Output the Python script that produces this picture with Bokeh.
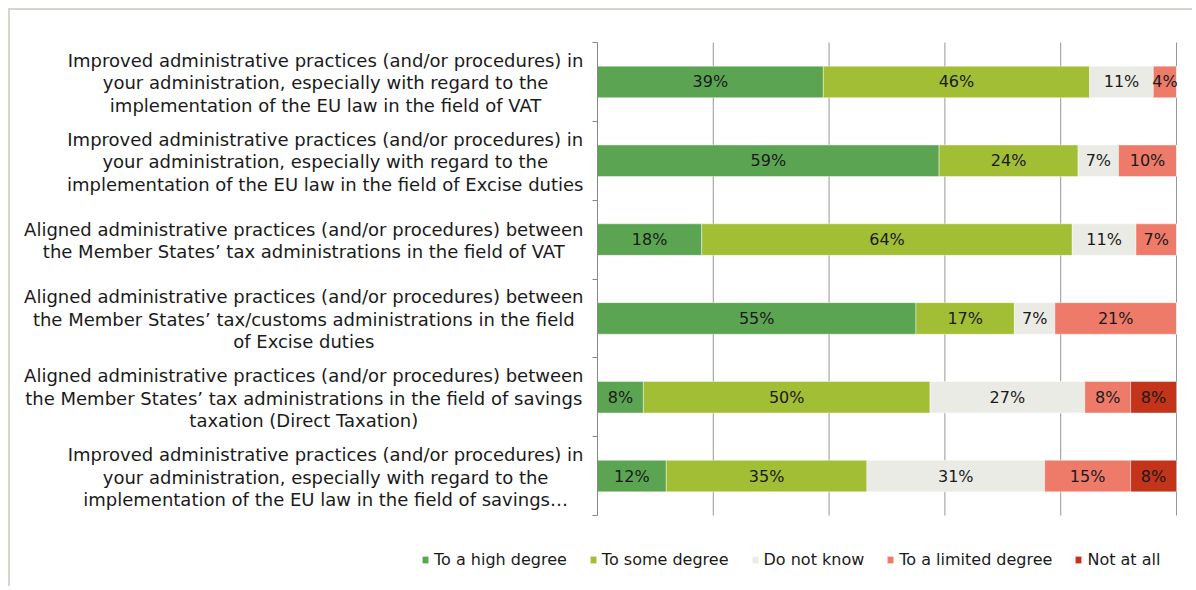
from bokeh.plotting import figure
from bokeh.models import FixedTicker, ColumnDataSource, Legend, LegendItem, Range1d, LinearAxis
from bokeh.embed import file_html
from bokeh.resources import INLINE
from bokeh.core.properties import value

statements = [
    "Improved administrative practices (and/or procedures) in\nyour administration, especially with regard to the\nimplementation of the EU law in the field of VAT",
    "Improved administrative practices (and/or procedures) in\nyour administration, especially with regard to the\nimplementation of the EU law in the field of Excise duties",
    "Aligned administrative practices (and/or procedures) between\nthe Member States\u2019 tax administrations in the field of VAT",
    "Aligned administrative practices (and/or procedures) between\nthe Member States\u2019 tax/customs administrations in the field\nof Excise duties",
    "Aligned administrative practices (and/or procedures) between\nthe Member States\u2019 tax administrations in the field of savings\ntaxation (Direct Taxation)",
    "Improved administrative practices (and/or procedures) in\nyour administration, especially with regard to the\nimplementation of the EU law in the field of savings\u2026",
]
series = ["To a high degree", "To some degree", "Do not know", "To a limited degree", "Not at all"]
high = [39, 59, 18, 55, 8, 12]
some = [46, 24, 64, 17, 50, 35]
dunno = [11, 7, 11, 7, 27, 31]
limited = [4, 10, 7, 21, 8, 15]
not_at_all = [0, 0, 0, 0, 8, 8]
colors = ["#5BA552", "#A2BE35", "#EBEBE6", "#EE7B6A", "#C4341B"]
grid_ticks = [20, 40, 60, 80, 100]

FONT = "DejaVu Sans"
values = [high, some, dunno, limited, not_at_all]
n = len(statements)
totals = [sum(v[i] for v in values) for i in range(n)]
ypos = [i + 0.5 for i in range(n)]
bounds = list(range(n + 1))

W, H = 1184, 578
p = figure(width=W, height=H, output_backend="svg", toolbar_location=None,
           x_range=Range1d(-101.38, 103.11), y_range=Range1d(6.926, -0.406),
           x_axis_location=None, y_axis_location=None,
           min_border=0,
           styles={"margin-left": "8px", "margin-top": "8px",
                   "border-left": "2px solid #D6D6CE", "border-top": "2px solid #D6D6CE"})
p.outline_line_color = None
p.xgrid.visible = False
p.ygrid.visible = False

# vertical gridlines limited to the category band
p.segment(x0=grid_ticks, x1=grid_ticks, y0=[0] * len(grid_ticks), y1=[n] * len(grid_ticks),
          line_color="#969696", line_width=1)

# category axis drawn at x = 0, ticks at category boundaries
yax = LinearAxis(fixed_location=0, bounds=(0, n),
                 ticker=FixedTicker(ticks=[], minor_ticks=bounds),
                 major_tick_out=0, major_tick_in=0, minor_tick_out=5, minor_tick_in=0,
                 major_label_standoff=0, major_label_text_font_size="0px",
                 axis_line_color="#888888", minor_tick_line_color="#888888")
p.add_layout(yax, "left")

left = [0.0] * n
items = []
lx, ly, lt = [], [], []
for name, vals, col in zip(series, values, colors):
    shares = [vals[i] / totals[i] * 100 for i in range(n)]
    right = [left[i] + shares[i] for i in range(n)]
    src = ColumnDataSource(dict(y=ypos, left=left, right=right))
    r = p.hbar(y="y", left="left", right="right", height=0.4, source=src,
               fill_color=col, line_color="white", line_width=0.6, line_alpha=0.7)
    items.append(LegendItem(label=name, renderers=[r]))
    for i in range(n):
        if vals[i] > 0:
            lx.append(left[i] + shares[i] / 2)
            ly.append(ypos[i])
            lt.append(f"{vals[i]}%")
    left = right

# category labels, right-anchored blocks with centred lines
p.text(x=[0] * n, y=ypos, text=statements, x_offset=-14, y_offset=1, anchor="center_right",
       text_align="center", text_baseline="middle", text_font=value(FONT),
       text_font_size="18px", text_color="#1A1A1A", text_line_height=1.07)

p.text(x="x", y="y", text="t", source=ColumnDataSource(dict(x=lx, y=ly, t=lt)),
       text_align="center", text_baseline="middle", text_font=value(FONT),
       text_font_size="16px", text_color="#1A1A1A")

legend = Legend(items=items, orientation="horizontal", location=(411, 19))
legend.background_fill_alpha = 0
legend.border_line_color = None
legend.padding = 0
legend.margin = 0
legend.spacing = 22
legend.label_standoff = 5
legend.glyph_width = 8
legend.glyph_height = 9
legend.label_text_font = FONT
legend.label_text_font_size = "16px"
legend.label_text_color = "#1A1A1A"
p.add_layout(legend)

open("out.html", "w").write(file_html(p, INLINE))
